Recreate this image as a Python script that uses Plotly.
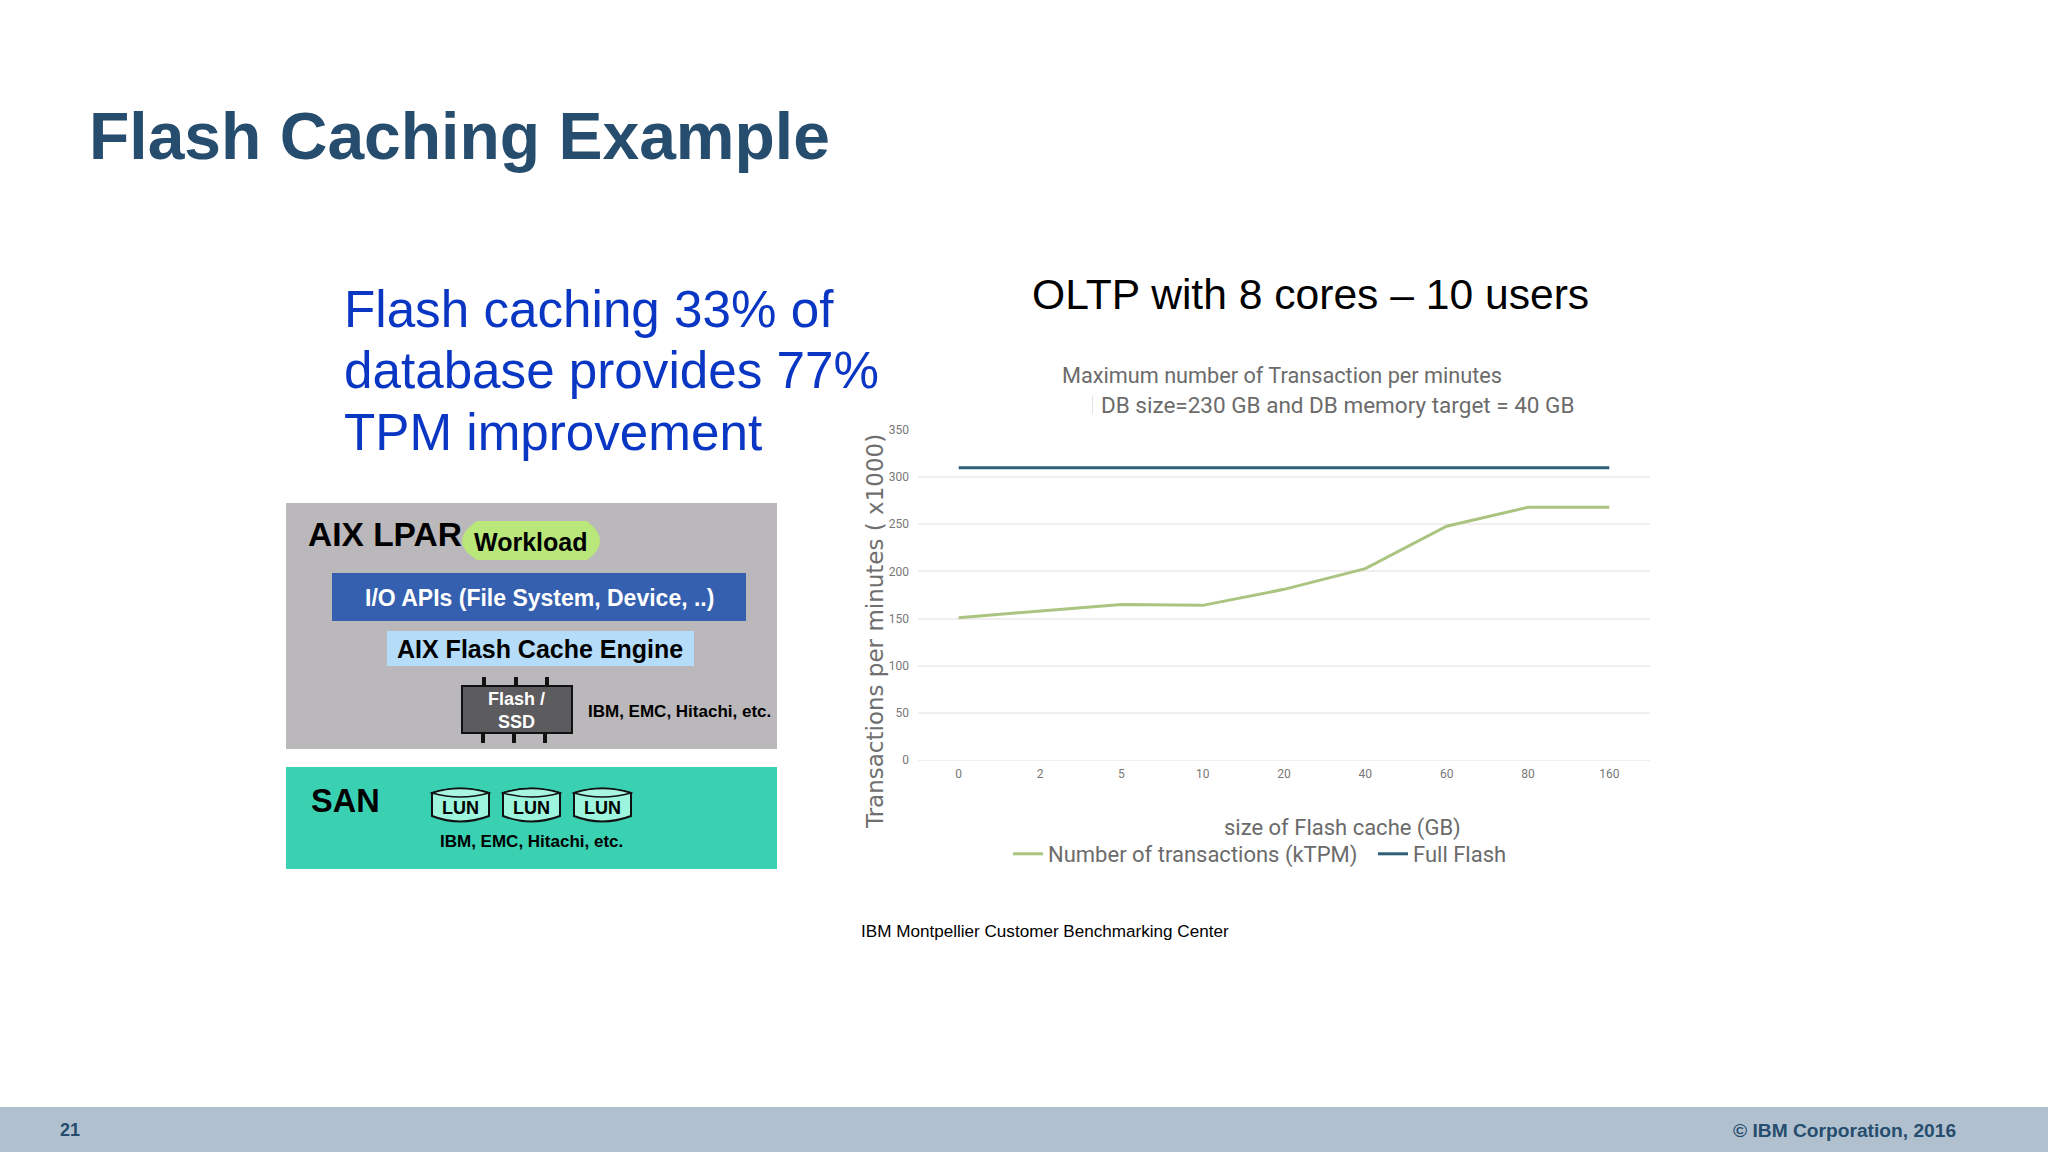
import plotly.graph_objects as go

# values
cache_sizes = ['0', '2', '5', '10', '20', '40', '60', '80', '160']
ktpm = [151, 158, 165, 164, 181, 203, 248, 268, 268]
full_flash = [310, 310, 310, 310, 310, 310, 310, 310, 310]
y_ticks = [0, 50, 100, 150, 200, 250, 300, 350]

W, H = 2048, 1152
NAVY = '#264d6e'
ARIAL = 'Liberation Sans'
NARROW = 'Roboto'
GREY = '#6b6b6b'


def fx(x):
    return x / W


def fy(y):
    return 1 - y / H


fig = go.Figure()
fig.add_trace(go.Scatter(x=cache_sizes, y=ktpm, mode='lines', name='Number of transactions (kTPM)',
                         line=dict(color='#abc480', width=3)))
fig.add_trace(go.Scatter(x=cache_sizes, y=full_flash, mode='lines', name='Full Flash',
                         line=dict(color='#2f5f75', width=3)))

shapes = []


def rect(x0, y0, x1, y1, fill, line=None, width=0):
    shapes.append(dict(type='rect', xref='paper', yref='paper', layer='below',
                       x0=fx(x0), x1=fx(x1), y0=fy(y0), y1=fy(y1), fillcolor=fill,
                       line=dict(color=line or fill, width=width)))


def path(d, fill, line, width):
    shapes.append(dict(type='path', xref='paper', yref='paper', layer='below', path=d,
                       fillcolor=fill, line=dict(color=line, width=width)))


def pt(x, y):
    return f'{fx(x):.5f},{fy(y):.5f}'


# footer and diagram boxes
rect(0, 1107, W, H, '#b1c0cf')
rect(286, 503, 777, 749, '#bab8ba')
rect(286, 767, 777, 869, '#3ad1b3')
rect(332, 573, 746, 621, '#3560b0')
rect(387, 631, 694, 666, '#b5dcf8')
rect(1092, 396, 1093, 414, '#e2e2e2')

# workload pill
path(f'M {pt(477, 521)} L {pt(587, 521)} Q {pt(600, 531)} {pt(600, 541)} Q {pt(600, 551)} {pt(587, 560)} '
     f'L {pt(477, 560)} Q {pt(462, 551)} {pt(462, 541)} Q {pt(462, 531)} {pt(477, 521)} Z',
     '#b9e77a', '#b9e77a', 0)

# flash chip with pins
for px in (484, 516, 547):
    rect(px - 2, 677, px + 2, 686, '#111111')
for px in (483, 514, 545):
    rect(px - 2, 733, px + 2, 743, '#111111')
rect(462, 686, 572, 733, '#5c5b5d', '#111111', 2)

# LUN cylinders
for x0 in (432, 503, 574):
    x1 = x0 + 57
    path(f'M {pt(x0, 793)} Q {pt(x0 + 28, 784)} {pt(x1, 793)} L {pt(x1, 816)} '
         f'Q {pt(x0 + 28, 827)} {pt(x0, 816)} Z', '#9df5dd', '#111111', 2)
    path(f'M {pt(x0, 793)} Q {pt(x0 + 28, 784)} {pt(x1, 793)} Q {pt(x0 + 28, 801)} {pt(x0, 793)} Z',
         '#a8f6e1', '#111111', 1.5)


def label(text, x, y, size, color='#000000', bold=False, family=ARIAL, anchor='center', angle=0):
    if bold:
        text = f'<b>{text}</b>'
    fig.add_annotation(text=text, xref='paper', yref='paper', x=fx(x), y=fy(y), xanchor=anchor, yanchor='middle',
                       showarrow=False, textangle=angle, align='center',
                       font=dict(family=family, size=size, color=color))


label('Flash Caching Example', 87, 136, 66, NAVY, True, anchor='left')
label('Flash caching 33% of', 342, 309, 51.2, '#0a36c4', anchor='left')
label('database provides 77%', 342, 370, 51.2, '#0a36c4', anchor='left')
label('TPM improvement', 342, 432, 51.2, '#0a36c4', anchor='left')
label('OLTP with 8 cores – 10 users', 1310, 294, 42.6)

label('AIX LPAR', 306, 534, 33.5, bold=True, anchor='left')
label('Workload', 530, 542, 25, bold=True)
label('I/O APIs (File System, Device, ..)', 539, 598, 23, '#ffffff', True)
label('AIX Flash Cache Engine', 540, 649, 25, bold=True)
label('Flash /<br>SSD', 516, 710, 18, '#ffffff', True)
label('IBM, EMC, Hitachi, etc.', 586, 711, 17, bold=True, anchor='left')
label('SAN', 309, 801, 32.5, bold=True, anchor='left')
for cx in (460, 531, 602):
    label('LUN', cx, 808, 18, bold=True)
label('IBM, EMC, Hitachi, etc.', 531, 841, 17, bold=True)

label('Maximum number of Transaction per minutes', 1282, 376, 21.7, GREY, family=NARROW)
label('DB size=230 GB and DB memory target = 40 GB', 1337, 405, 22.5, GREY, family=NARROW)
label('size of Flash cache (GB)', 1342, 828, 22, GREY, family=NARROW)
label('Transactions per minutes ( x1000)', 875, 632, 23, '#6f6f6f', family='DejaVu Sans', angle=-90)
label('IBM Montpellier Customer Benchmarking Center', 859, 931, 17.1, anchor='left')

label('21', 58, 1130, 18, NAVY, True, anchor='left')
label('© IBM Corporation, 2016', 1958, 1130, 19.2, NAVY, True, anchor='right')

fig.update_layout(
    width=W, height=H, margin=dict(l=0, r=0, t=0, b=0, autoexpand=False),
    paper_bgcolor='#ffffff', plot_bgcolor='rgba(0,0,0,0)',
    shapes=shapes,
    showlegend=True,
    legend=dict(orientation='h', x=fx(1008), y=fy(854), xanchor='left', yanchor='middle',
                bgcolor='rgba(0,0,0,0)', itemwidth=30, traceorder='normal',
                entrywidth=320, entrywidthmode='pixels',
                font=dict(family=NARROW, size=22, color=GREY)),
    xaxis=dict(domain=[fx(918), fx(1650)], range=[-0.5, 8.5], type='category', showgrid=False,
               showline=True, linecolor='#f2eeee', ticks='', ticklen=0, automargin=False,
               ticklabelstandoff=3, tickfont=dict(family=NARROW, size=12, color='#777777')),
    yaxis=dict(domain=[fy(760), fy(430)], range=[0, 350], tickvals=y_ticks, showgrid=True,
               gridcolor='#f2eeee', gridwidth=1.5, zeroline=False, ticks='', automargin=False,
               ticklabelstandoff=8, tickfont=dict(family=NARROW, size=12, color='#777777')),
)

fig.write_html("out.html", config=dict(displayModeBar=False),
               post_script="document.body.style.margin='0';")
